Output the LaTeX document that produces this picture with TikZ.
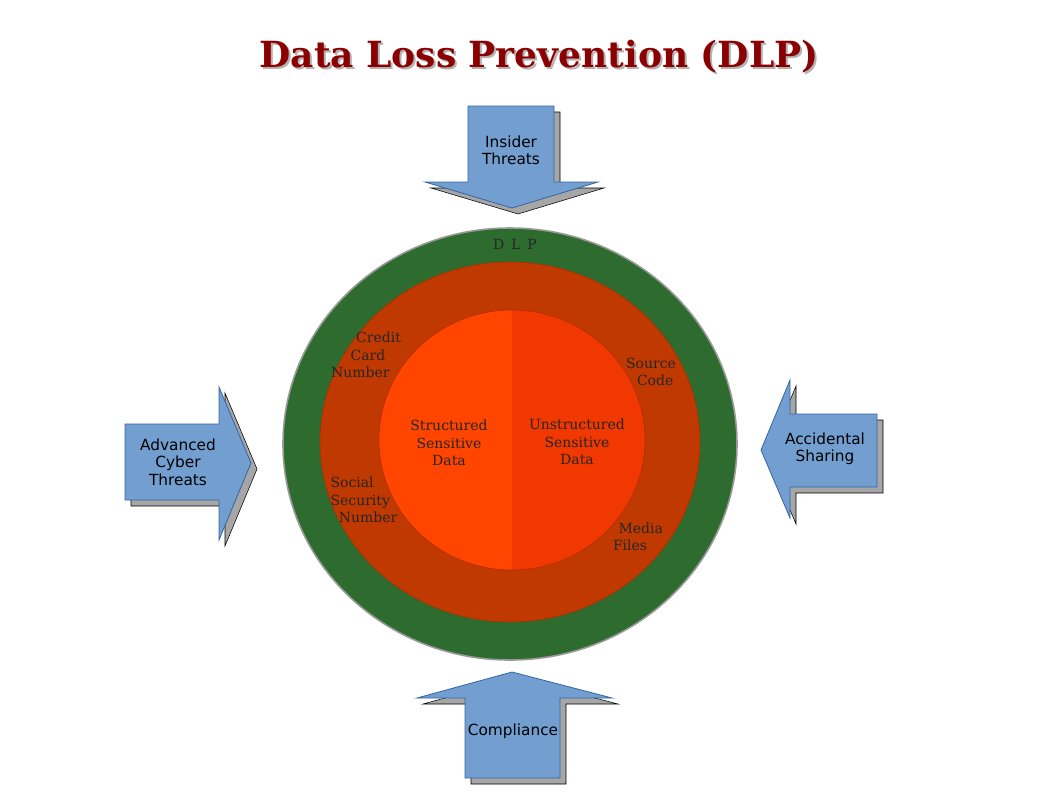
\documentclass[tikz,border=0pt]{standalone}
\usepackage{fontspec}
\usetikzlibrary{calc}
\setmainfont{DejaVu Serif}
\newfontfamily\arrowfont{DejaVu Sans}
\definecolor{arrfill}{RGB}{114,159,207}
\definecolor{arrdraw}{RGB}{52,101,164}
\definecolor{dgreen}{RGB}{46,107,46}
\definecolor{ring}{RGB}{192,57,0}
\definecolor{ringdraw}{RGB}{170,45,0}
\definecolor{leftin}{RGB}{255,69,0}
\definecolor{rightin}{RGB}{240,56,0}
\definecolor{titlered}{RGB}{139,0,0}
\begin{document}
\begin{tikzpicture}[x=0.75pt,y=-0.75pt,
  arr/.style={fill=arrfill, draw=arrdraw, line width=0.6pt},
  shd/.style={fill=gray!70},
  atext/.style={font=\arrowfont\fontsize{11.5}{13}\selectfont, align=center, text=black},
  ctext/.style={font=\fontsize{10.5}{13}\selectfont, align=center, text=black!85}]
\useasboundingbox (0,0) rectangle (1058,794);
\node (title) at (541,59) {\textcolor{gray!60}{\fontsize{27}{30}\selectfont\bfseries Data Loss Prevention (DLP)}};
\node at (539,57) {\textcolor{titlered}{\fontsize{27}{30}\selectfont\bfseries Data Loss Prevention (DLP)}};
\foreach \d/\s in {6/shd,0/arr}{
\draw[\s] ($(468,106)+(\d,\d)$) -- ++(86,0) -- ++(0,76) -- ++(44,0) -- ++(-86,26) -- ++(-87,-26) -- ++(43,0) -- cycle;
\draw[\s] ($(125,424)+(\d,\d)$) -- ++(94,0) -- ++(0,-37) -- ++(32,76) -- ++(-32,77) -- ++(0,-40) -- ++(-94,0) -- cycle;
\draw[\s] ($(877,414)+(\d,\d)$) -- ++(-87,0) -- ++(0,-34) -- ++(-29,70) -- ++(29,68) -- ++(0,-31) -- ++(87,0) -- cycle;
\draw[\s] ($(465,778)+(\d,\d)$) -- ++(0,-80) -- ++(-48,0) -- ++(95,-26) -- ++(100,26) -- ++(-52,0) -- ++(0,80) -- cycle;
}
\node[atext] (insider) at (511,150) {Insider\\Threats};
\node[atext] (adv) at (178,462) {Advanced\\Cyber\\Threats};
\node[atext] (acc) at (825,449) {Accidental\\Sharing};
\node[atext] (comp) at (513,731) {Compliance};
\filldraw[fill=dgreen, draw=gray!80, line width=1.2pt] (510,444) ellipse [x radius=227, y radius=216];
\filldraw[fill=ring, draw=ringdraw] (510,442) ellipse [x radius=190, y radius=180];
\begin{scope}
\clip (512,440) ellipse [x radius=133, y radius=130];
\fill[leftin] (379,310) rectangle (512,570);
\fill[rightin] (512,310) rectangle (646,570);
\end{scope}
\draw[ringdraw] (512,440) ellipse [x radius=133, y radius=130];
\node[ctext] (dlp) at (515,244) {D\,\ L\,\ P};
\node[ctext] (sd) at (449,443) {Structured\\Sensitive\\Data};
\node[ctext] (ud) at (577,442) {Unstructured\\Sensitive\\Data};
\node[ctext, align=left] (cc) at (366,355) {\hspace*{1.8em}Credit\\\hspace*{1.4em}Card\\Number};
\node[ctext, align=left] (ssn) at (364,500) {Social\\Security\\\hspace*{0.6em}Number};
\node[ctext] (src) at (651,372) {Source\\\hspace*{0.6em}Code};
\node[ctext, align=left] (mf) at (638,537) {\hspace*{0.4em}Media\\Files};
\end{tikzpicture}
\end{document}
